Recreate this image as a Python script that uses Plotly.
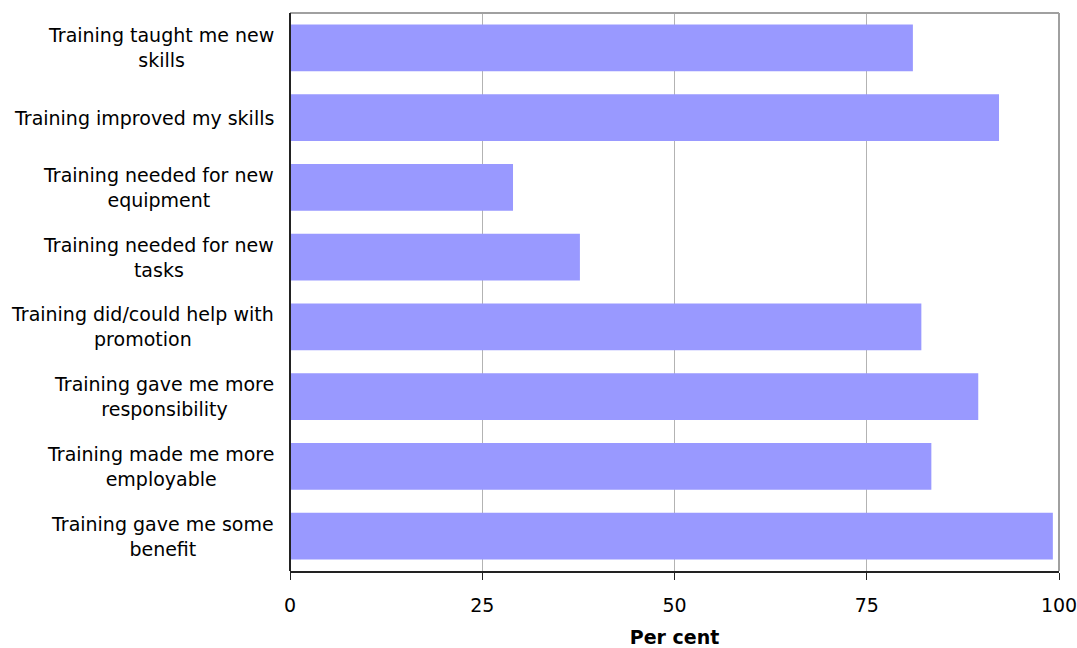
import plotly.graph_objects as go

categories = [
    "Training taught me new<br>skills",
    "Training improved my skills",
    "Training needed for new<br>equipment",
    "Training needed for new<br>tasks",
    "Training did/could help with<br>promotion",
    "Training gave me more<br>responsibility",
    "Training made me more<br>employable",
    "Training gave me some<br>benefit",
]
values = [81.0, 92.2, 29.0, 37.7, 82.1, 89.5, 83.4, 99.2]
x_ticks = [0, 25, 50, 75, 100]
x_title = "Per cent"

FONT = "DejaVu Sans"
FS = 19

fig = go.Figure()
fig.add_trace(go.Bar(
    y=list(range(len(categories))),
    x=values,
    orientation="h",
    marker=dict(color="#9999FF", line=dict(width=0)),
    hoverinfo="x",
))

for i, c in enumerate(categories):
    fig.add_annotation(
        x=0, xref="paper", y=i, yref="y",
        text=c, showarrow=False, xanchor="right", align="center",
        xshift=-14, font=dict(family=FONT, size=FS, color="#000000"),
    )

fig.update_layout(
    width=1077, height=648,
    margin=dict(l=290, r=18, t=13, b=77, autoexpand=False),
    paper_bgcolor="white", plot_bgcolor="white",
    bargap=0.33,
    showlegend=False,
    font=dict(family=FONT, size=FS, color="#000000"),
    xaxis=dict(
        range=[0, 100], tickvals=x_ticks, ticktext=[str(t) for t in x_ticks],
        showgrid=True, gridcolor="#b3b3b3", gridwidth=1,
        ticks="outside", ticklen=7, tickcolor="#222222", tickwidth=1,
        showline=True, linecolor="#222222", linewidth=2,
        zeroline=False, automargin=False,
        ticklabelstandoff=9, ticklabeloverflow="allow",
        title=dict(text="<b>" + x_title + "</b>", font=dict(family=FONT, size=FS), standoff=16),
        tickfont=dict(family=FONT, size=FS),
    ),
    yaxis=dict(
        range=[7.5, -0.5], showticklabels=False, showgrid=False,
        zeroline=False, ticks="", automargin=False,
    ),
    shapes=[
        dict(type="line", xref="paper", yref="paper", x0=0, x1=1, y0=1, y1=1,
             line=dict(color="#a0a0a0", width=2)),
        dict(type="line", xref="paper", yref="paper", x0=1, x1=1, y0=0, y1=1,
             line=dict(color="#a0a0a0", width=2)),
        dict(type="line", xref="paper", yref="paper", x0=0, x1=0, y0=0, y1=1,
             line=dict(color="#222222", width=2)),
    ],
)

fig.write_html("out.html")
